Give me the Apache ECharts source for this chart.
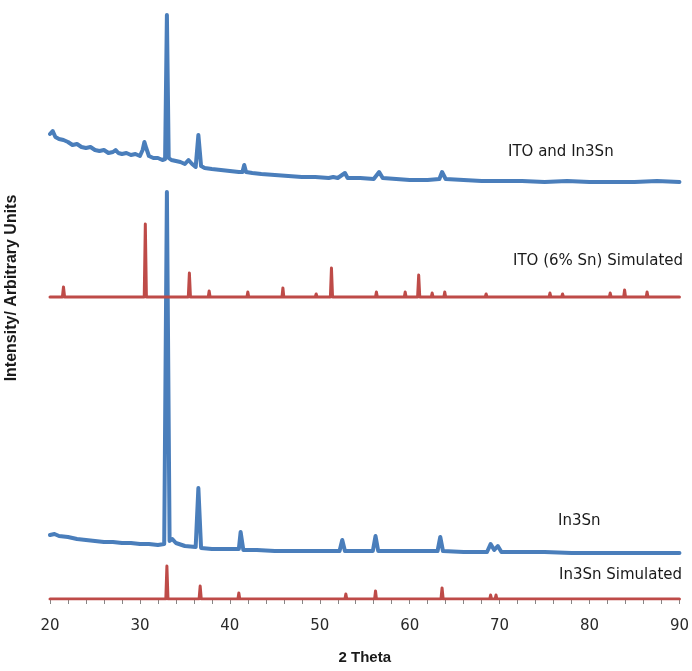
<!DOCTYPE html>
<html>
<head>
<meta charset="utf-8">
<title>XRD patterns</title>
<script src="https://cdn.jsdelivr.net/npm/echarts@6/dist/echarts.min.js"></script>
<style>
  html, body { margin: 0; padding: 0; background: #ffffff; }
  #chart { width: 692px; height: 671px; }
</style>
</head>
<body>
<div id="chart"></div>
<script>
// 2θ axis
const thetaMin = 20;
const thetaMax = 90;
const thetaStep = 10;

// Vertical offsets (arbitrary units) that stack the four patterns
const offsetItoIn3Sn = 400;
const offsetItoSim = 302;
const offsetIn3Sn = 40;
const offsetIn3SnSim = 0;

// Measured: ITO and In3Sn
const itoIn3SnTheta = [20.0, 20.3, 20.6, 21.0, 21.5, 22.0, 22.5, 23.0, 23.5, 24.0, 24.5, 25.0, 25.5, 26.0, 26.5, 27.0, 27.3, 27.6, 28.0, 28.5, 29.0, 29.5, 30.0, 30.3, 30.5, 30.7, 31.0, 31.5, 32.0, 32.5, 32.8, 33.0, 33.2, 33.5, 34.0, 34.5, 35.0, 35.4, 35.8, 36.2, 36.5, 36.8, 37.2, 38.0, 39.0, 40.0, 41.0, 41.4, 41.6, 41.8, 42.5, 43.5, 45.0, 46.5, 48.0, 49.5, 51.0, 51.5, 52.0, 52.8, 53.1, 54.5, 56.0, 56.6, 57.0, 58.5, 60.0, 62.0, 63.3, 63.6, 64.0, 66.0, 68.0, 70.0, 72.5, 75.0, 77.5, 80.0, 82.5, 85.0, 87.5, 90.0];
const itoIn3SnCounts = [65, 68, 62, 60, 59, 57, 54, 55, 52, 51, 52, 49, 48, 49, 46, 47, 49, 46, 45, 46, 44, 45, 43, 49, 57, 51, 43, 41, 41, 39, 40, 184, 41, 39, 38, 37, 35, 39, 35, 32, 64, 33, 31, 30, 29, 28, 27, 27, 34, 27, 26, 25, 24, 23, 22, 22, 21, 22, 21, 26, 21, 21, 20, 27, 21, 20, 19, 19, 20, 27, 20, 19, 18, 18, 18, 17, 18, 17, 17, 17, 18, 17];

// Simulated: ITO (6% Sn)
const itoSimTheta = [20.0, 21.38, 21.5, 21.62, 30.48, 30.6, 30.72, 35.38, 35.5, 35.62, 37.6, 37.7, 37.8, 41.9, 42.0, 42.1, 45.8, 45.9, 46.0, 49.5, 49.6, 49.7, 51.18, 51.3, 51.42, 52.9, 53.0, 53.1, 56.2, 56.3, 56.4, 59.4, 59.5, 59.6, 60.88, 61.0, 61.12, 62.4, 62.5, 62.6, 63.8, 63.9, 64.0, 65.5, 65.6, 65.7, 68.4, 68.5, 68.6, 73.9, 74.0, 74.1, 75.5, 75.6, 75.7, 76.9, 77.0, 77.1, 78.4, 78.5, 78.6, 82.2, 82.3, 82.4, 83.8, 83.9, 84.0, 86.3, 86.4, 86.5, 90.0];
const itoSimCounts = [0, 0, 10, 0, 0, 73, 0, 0, 24, 0, 0, 6, 0, 0, 5, 0, 0, 9, 0, 0, 3, 0, 0, 29, 0, 0, 2, 0, 0, 5, 0, 0, 5, 0, 0, 22, 0, 0, 4, 0, 0, 5, 0, 0, 2, 0, 0, 3, 0, 0, 2, 0, 0, 4, 0, 0, 3, 0, 0, 2, 0, 0, 4, 0, 0, 7, 0, 0, 5, 0, 0];

// Measured: In3Sn
const in3SnTheta = [20.0, 20.5, 21.0, 22.0, 23.0, 24.0, 25.0, 26.0, 27.0, 28.0, 29.0, 30.0, 31.0, 32.0, 32.7, 33.0, 33.3, 33.6, 34.0, 35.0, 36.2, 36.5, 36.8, 38.0, 40.0, 41.0, 41.2, 41.5, 43.0, 45.0, 48.0, 50.0, 52.2, 52.5, 52.8, 54.0, 55.9, 56.2, 56.5, 58.0, 60.0, 62.0, 63.1, 63.4, 63.7, 66.0, 68.6, 69.0, 69.4, 69.8, 70.2, 72.5, 75.0, 78.0, 81.0, 84.0, 87.0, 90.0];
const in3SnCounts = [24, 25, 23, 22, 20, 19, 18, 17, 17, 16, 16, 15, 15, 14, 15, 367, 18, 20, 16, 13, 12, 71, 11, 10, 10, 10, 27, 9, 9, 8, 8, 8, 8, 19, 8, 8, 8, 23, 8, 8, 8, 8, 8, 22, 8, 7, 7, 15, 9, 13, 7, 7, 7, 6, 6, 6, 6, 6];

// Simulated: In3Sn
const in3SnSimTheta = [20.0, 32.88, 33.0, 33.12, 36.58, 36.7, 36.82, 40.9, 41.0, 41.1, 52.8, 52.9, 53.0, 56.1, 56.2, 56.3, 63.48, 63.6, 63.72, 68.9, 69.0, 69.1, 69.5, 69.6, 69.7, 77.8, 77.9, 78.0, 87.1, 87.2, 87.3, 89.3, 89.4, 89.5, 90.0];
const in3SnSimCounts = [0, 0, 33, 0, 0, 13, 0, 0, 6, 0, 0, 5, 0, 0, 8, 0, 0, 11, 0, 0, 4, 0, 0, 4, 0, 0, 2, 0, 0, 2, 0, 0, 2, 0, 0];

// Pattern names drawn beside each trace
const labelItoIn3Sn = 'ITO and In3Sn';
const labelItoSim = 'ITO (6% Sn) Simulated';
const labelIn3Sn = 'In3Sn';
const labelIn3SnSim = 'In3Sn Simulated';

const xTitle = '2 Theta';
const yTitle = 'Intensity/ Arbitrary Units';

const blue = '#4a7ebb';
const red = '#be4b48';

function shifted(thetas, counts, offset) {
  return thetas.map((t, i) => [t, counts[i] + offset]);
}

function trace(name, thetas, counts, offset, color, width) {
  return {
    name: name,
    type: 'line',
    data: shifted(thetas, counts, offset),
    showSymbol: false,
    symbol: 'none',
    smooth: false,
    lineStyle: { color: color, width: width, join: 'round', cap: 'round' },
    itemStyle: { color: color },
    z: 3
  };
}

const chart = echarts.init(document.getElementById('chart'), null, { renderer: 'canvas' });

const textFont = '"DejaVu Sans", sans-serif';
const boldFont = '"Liberation Sans", Arial, sans-serif';

function sideLabel(text, left, top) {
  return {
    type: 'text',
    left: left,
    top: top,
    style: { text: text, fill: '#1a1a1a', font: '15px ' + textFont }
  };
}

chart.setOption({
  animation: false,
  backgroundColor: '#ffffff',
  grid: { left: 50, right: 10, top: 0, bottom: 72, containLabel: false },
  xAxis: {
    type: 'value',
    min: thetaMin,
    max: thetaMax,
    interval: thetaStep,
    name: xTitle,
    nameLocation: 'middle',
    nameGap: 51,
    nameTextStyle: { fontFamily: boldFont, fontWeight: 'bold', fontSize: 15, color: '#1a1a1a' },
    axisLine: { show: true, onZero: false, lineStyle: { color: '#868686', width: 1 } },
    axisTick: { show: true, inside: false, length: 5, lineStyle: { color: '#868686' } },
    minorTick: { show: true, splitNumber: 5, length: 5, lineStyle: { color: '#868686' } },
    splitLine: { show: false },
    minorSplitLine: { show: false },
    axisLabel: { fontFamily: textFont, fontSize: 15, color: '#2a2a2a', margin: 20 }
  },
  yAxis: {
    type: 'value',
    min: 0,
    max: 599,
    show: true,
    axisLine: { show: false },
    axisTick: { show: false },
    axisLabel: { show: false },
    splitLine: { show: false }
  },
  graphic: [
    {
      type: 'text',
      x: 12,
      y: 288,
      rotation: Math.PI / 2,
      style: {
        text: yTitle,
        fill: '#1a1a1a',
        font: 'bold 16px ' + boldFont,
        align: 'center',
        verticalAlign: 'middle'
      }
    },
    sideLabel(labelItoIn3Sn, 508, 145),
    sideLabel(labelItoSim, 513, 254),
    sideLabel(labelIn3Sn, 558, 514),
    sideLabel(labelIn3SnSim, 559, 568)
  ],
  series: [
    trace(labelIn3SnSim, in3SnSimTheta, in3SnSimCounts, offsetIn3SnSim, red, 3),
    trace(labelIn3Sn, in3SnTheta, in3SnCounts, offsetIn3Sn, blue, 4),
    trace(labelItoSim, itoSimTheta, itoSimCounts, offsetItoSim, red, 3),
    trace(labelItoIn3Sn, itoIn3SnTheta, itoIn3SnCounts, offsetItoIn3Sn, blue, 4)
  ]
});
</script>
</body>
</html>
